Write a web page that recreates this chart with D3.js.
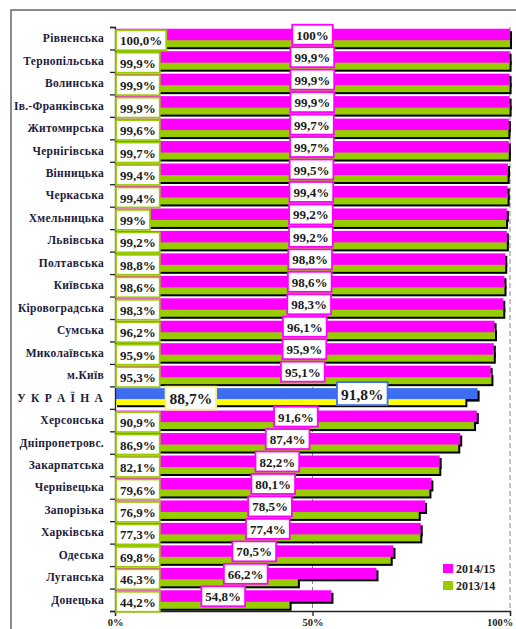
<!DOCTYPE html>
<html><head><meta charset="utf-8">
<script src="https://cdn.jsdelivr.net/npm/d3@7/dist/d3.min.js"></script>
<style>body{margin:0;background:#fff}svg{display:block}</style>
</head><body>
<svg id="c" width="516" height="629"></svg>
<script>
const categories = ["Рівненська","Тернопільська","Волинська","Ів.-Франківська","Житомирська","Чернігівська","Вінницька","Черкаська","Хмельницька","Львівська","Полтавська","Київська","Кіровоградська","Сумська","Миколаївська","м.Київ","У К Р А Ї Н А","Херсонська","Дніпропетровс.","Закарпатська","Чернівецька","Запорізька","Харківська","Одеська","Луганська","Донецька"];
const values1415 = [100,99.9,99.9,99.9,99.7,99.7,99.5,99.4,99.2,99.2,98.8,98.6,98.3,96.1,95.9,95.1,91.8,91.6,87.4,82.2,80.1,78.5,77.4,70.5,66.2,54.8];
const values1314 = [100,99.9,99.9,99.9,99.6,99.7,99.4,99.4,99,99.2,98.8,98.6,98.3,96.2,95.9,95.3,88.7,90.9,86.9,82.1,79.6,76.9,77.3,69.8,46.3,44.2];
const labels1415 = ["100%","99,9%","99,9%","99,9%","99,7%","99,7%","99,5%","99,4%","99,2%","99,2%","98,8%","98,6%","98,3%","96,1%","95,9%","95,1%","91,8%","91,6%","87,4%","82,2%","80,1%","78,5%","77,4%","70,5%","66,2%","54,8%"];
const labels1314 = ["100,0%","99,9%","99,9%","99,9%","99,6%","99,7%","99,4%","99,4%","99%","99,2%","98,8%","98,6%","98,3%","96,2%","95,9%","95,3%","88,7%","90,9%","86,9%","82,1%","79,6%","76,9%","77,3%","69,8%","46,3%","44,2%"];
const seriesNames = ["2014/15","2013/14"];
const xTicks = [0,50,100];
const totalIndex = 16;

const svg = d3.select("#c");
const font = "Liberation Serif, DejaVu Serif, serif";
const C1 = "#ff00ff", C2 = "#99cc00", CB = "#3d6ef0", CY = "#ffff00";

svg.append("rect").attr("x",11).attr("y",10).attr("width",540).attr("height",660)
  .attr("fill","none").attr("stroke","#666").attr("stroke-width",1.5);

const x = d3.scaleLinear().domain([0,100]).range([115,510]);
const y = d3.scaleBand().domain(d3.range(categories.length)).range([27,611]);
const bw = y.bandwidth();
const cy = i => y(i) + bw/2;

svg.append("g").selectAll("line").data([50,100]).join("line")
  .attr("x1",d=>x(d)).attr("x2",d=>x(d)).attr("y1",27).attr("y2",611)
  .attr("stroke","#888").attr("stroke-dasharray","5,3").attr("stroke-width",1);

const idx = d3.range(categories.length);
const gB = svg.append("g");
gB.selectAll("rect.s2").data(idx).join("rect")
  .attr("x",x(0)+2).attr("y",i=>cy(i)-2+2).attr("width",i=>x(values1314[i])-x(0)).attr("height",i=>i===totalIndex?9.6:11)
  .attr("fill","#000");
gB.selectAll("rect.s1").data(idx).join("rect")
  .attr("x",x(0)+2).attr("y",i=>cy(i)-9+2).attr("width",i=>x(values1415[i])-x(0)).attr("height",11)
  .attr("fill","#000");
gB.selectAll("rect.b2").data(idx).join("rect")
  .attr("x",x(0)).attr("y",i=>cy(i)-2).attr("width",i=>x(values1314[i])-x(0)).attr("height",i=>i===totalIndex?9.6:11)
  .attr("fill",i=>i===totalIndex?CY:C2);
gB.selectAll("rect.b1").data(idx).join("rect")
  .attr("x",x(0)).attr("y",i=>cy(i)-9.5).attr("width",i=>x(values1415[i])-x(0)).attr("height",i=>i===totalIndex?11:11.5)
  .attr("fill",i=>i===totalIndex?CB:C1);

const yl = d3.scaleLinear().domain([0,categories.length]).range([27,611]);
const ax = svg.append("g").attr("transform","translate(115,0)")
  .call(d3.axisLeft(yl).tickValues(d3.range(categories.length+1)).tickSize(5).tickFormat(""));
ax.selectAll("path,line").attr("stroke","#222").attr("stroke-width",1.3);

const bx = svg.append("g").attr("transform","translate(0,611)")
  .call(d3.axisBottom(x).tickValues(xTicks).tickSize(5).tickPadding(3).tickFormat(d=>d+"%"));
bx.selectAll("path,line").attr("stroke","#222").attr("stroke-width",1.3);
bx.selectAll("text").attr("font-family",font).attr("font-weight","bold").attr("font-size",10.5).attr("fill","#222");
bx.selectAll(".tick:last-of-type text").attr("text-anchor","end").attr("dx","0.25em");

svg.append("g").selectAll("text").data(idx).join("text")
  .attr("x",104).attr("y",i=>cy(i)).attr("dy","0.35em").attr("text-anchor","end")
  .attr("font-family",font).attr("font-weight","bold").attr("font-size",11.5)
  .attr("letter-spacing",i=>i===totalIndex?"1.2px":"0.3px")
  .attr("fill","#1c1c3c").text(i=>categories[i]);

function boxLabel(g, text, cx, cyv, anchor, border, fs){
  const t = g.append("text").attr("font-family",font).attr("font-weight","bold").attr("font-size",fs)
    .attr("fill","#1a1a1a").attr("dy","0.35em").text(text);
  const w = t.node().getComputedTextLength();
  const bwid = w + 8, bh = fs===13 ? 20 : 23;
  const left = anchor === "start" ? cx : cx - bwid/2;
  g.insert("rect","text:last-child").attr("x",left).attr("y",cyv-bh/2).attr("width",bwid).attr("height",bh)
    .attr("fill","#fff").attr("stroke",border).attr("stroke-width",1.8);
  t.attr("x",left+4).attr("y",cyv+0.5);
}
const gL = svg.append("g");
idx.forEach(i=>{
  if(i===totalIndex){
    boxLabel(gL.append("g"), labels1314[i], x(19.2), cy(i)+0.5, "middle", "#f0f080", 15.5);
    boxLabel(gL.append("g"), labels1415[i], x(62.6), cy(i)-4, "middle", "#3d6ef0", 15.5);
  } else {
    boxLabel(gL.append("g"), labels1314[i], 116, cy(i)+2, "start", C2, 13);
    boxLabel(gL.append("g"), labels1415[i], x(values1415[i]/2), cy(i)-3.5, "middle", C1, 13);
  }
});

const lg = svg.append("g");
[[C1,seriesNames[0],564],[C2,seriesNames[1],581]].forEach(([c,n,yy])=>{
  lg.append("rect").attr("x",443).attr("y",yy).attr("width",10).attr("height",9).attr("fill",c);
  lg.append("text").attr("x",456).attr("y",yy+4.5).attr("dy","0.35em").attr("font-family",font)
    .attr("font-weight","bold").attr("font-size",12).attr("fill","#222").text(n);
});
</script>
</body></html>
